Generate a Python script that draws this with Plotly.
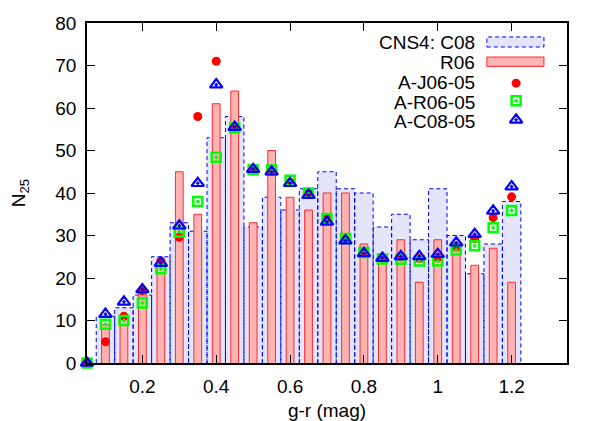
import plotly.graph_objects as go

# ---- data ----
gr_bins = [0.05, 0.10, 0.15, 0.20, 0.25, 0.30, 0.35, 0.40, 0.45, 0.50, 0.55, 0.60,
           0.65, 0.70, 0.75, 0.80, 0.85, 0.90, 0.95, 1.00, 1.05, 1.10, 1.15, 1.20]
cns4_c08 = [0, 11, 13, 16, 25, 33, 31, 53, 58, 32, 39, 36,
            41, 45, 41, 40, 32, 35, 29, 41, 30, 21, 28, 38]
r06 = [0, 9, 11, 17, 24, 45, 35, 61, 64, 33, 50, 39,
       36, 40, 40, 28, 24, 29, 19, 29, 28, 23, 27, 19]
a_j06_05 = [0, 5, 11, 17, 24, 29.6, 58, 71, 55.5, 45.5, 45, 42.5,
            40, 34, 29, 26, 24.7, 25, 24.6, 24.8, 27.3, 29.3, 34.2, 39.1]
a_r06_05 = [0, 9.1, 10, 14.1, 22.2, 30.8, 38, 48.4, 55.3, 45.5, 45.4, 43,
            40, 34, 29.3, 26, 24.5, 24.4, 24, 24, 26.6, 27.6, 31.8, 35.9]
a_c08_05 = [0, 11.5, 14.4, 17.3, 23.5, 32.3, 42.3, 65.5, 55.5, 45.6, 45, 42.3,
            39.5, 33.2, 28.8, 25.8, 24.7, 25.1, 25.1, 25.6, 28.3, 30.3, 35.8, 41.5]
x_ticks = [0.2, 0.4, 0.6, 0.8, 1.0, 1.2]
x_ticktext = ["0.2", "0.4", "0.6", "0.8", "1", "1.2"]

legend_labels = ["CNS4: C08", "R06", "A-J06-05", "A-R06-05", "A-C08-05"]

FONT = "Liberation Sans, Arial, Helvetica, sans-serif"
FS = 19
LAV = "#e4e4fa"
PINK = "#ffb3b3"

BOX_W = 0.05
BAR_W = 0.021


def box_path(centers, values, width):
    xs, ys = [], []
    for c, v in zip(centers, values):
        if v <= 0:
            continue
        l, r = c - width / 2, c + width / 2
        xs += [l, l, r, r, None]
        ys += [0, v, v, 0, None]
    return xs, ys


fig = go.Figure()

# CNS4: C08 wide boxes (fill + dashed outline)
bx, by = box_path(gr_bins, cns4_c08, BOX_W)
fig.add_trace(go.Scatter(x=bx, y=by, mode="lines", fill="toself", fillcolor=LAV,
                         line=dict(color="#0000ff", width=1, dash="4px,3px"),
                         showlegend=False, hoverinfo="skip"))

# R06 narrow bars drawn on top
rx, ry = box_path(gr_bins, r06, BAR_W)
fig.add_trace(go.Scatter(x=rx, y=ry, mode="lines", fill="toself", fillcolor=PINK,
                         line=dict(color="#ff2a2a", width=1),
                         showlegend=False, hoverinfo="skip"))

fig.add_trace(go.Scatter(x=gr_bins, y=a_j06_05, mode="markers", cliponaxis=False,
                         marker=dict(symbol="circle", size=9, color="#ff0000"),
                         showlegend=False))
fig.add_trace(go.Scatter(x=gr_bins, y=a_r06_05, mode="markers", cliponaxis=False,
                         marker=dict(symbol="square-open-dot", size=9, color="#00ff00",
                                     line=dict(width=2.5, color="#00ff00")),
                         showlegend=False))
fig.add_trace(go.Scatter(x=gr_bins, y=a_c08_05, mode="markers", cliponaxis=False,
                         marker=dict(symbol="triangle-up-open-dot", size=11, color="#0000ff",
                                     line=dict(width=2.2, color="#0000ff")),
                         showlegend=False))

# ---- custom legend (text right-aligned, key to the right) ----
row_y = [0.9438, 0.8857, 0.8267, 0.7678, 0.7111]
key_y = [0.823, 0.7711, 0.7153]
text_x = 0.812
key_x = 0.894
annotations = []
for lab, yy in zip(legend_labels, row_y):
    annotations.append(dict(text=lab, x=text_x, y=yy, xref="paper", yref="paper",
                            xanchor="right", yanchor="middle", showarrow=False,
                            height=18, valign="middle",
                            font=dict(family=FONT, size=FS, color="black")))
shapes = [
    dict(type="rect", xref="paper", yref="paper", x0=0.833, x1=0.952, y0=0.9295, y1=0.959,
         fillcolor=LAV, line=dict(color="#0000ff", width=1, dash="4px,3px"), layer="above"),
    dict(type="rect", xref="paper", yref="paper", x0=0.833, x1=0.952, y0=0.8724, y1=0.900,
         fillcolor=PINK, line=dict(color="#ff2a2a", width=1), layer="above"),
]
fig.add_trace(go.Scatter(x=[key_x], y=[key_y[0]], xaxis="x2", yaxis="y2", mode="markers",
                         marker=dict(symbol="circle", size=9, color="#ff0000"),
                         showlegend=False, hoverinfo="skip"))
fig.add_trace(go.Scatter(x=[key_x], y=[key_y[1]], xaxis="x2", yaxis="y2", mode="markers",
                         marker=dict(symbol="square-open-dot", size=9, color="#00ff00",
                                     line=dict(width=2.5, color="#00ff00")),
                         showlegend=False, hoverinfo="skip"))
fig.add_trace(go.Scatter(x=[key_x], y=[key_y[2]], xaxis="x2", yaxis="y2", mode="markers",
                         marker=dict(symbol="triangle-up-open-dot", size=11, color="#0000ff",
                                     line=dict(width=2.2, color="#0000ff")),
                         showlegend=False, hoverinfo="skip"))

axis_common = dict(showline=True, linecolor="black", linewidth=1.5, mirror="ticks",
                   ticks="inside", ticklen=8, tickwidth=1.2, tickcolor="black",
                   showgrid=False, zeroline=False, automargin=False,
                   tickfont=dict(family=FONT, size=FS, color="black"))

# the page body adds an 8 px offset, so the figure is 8 px smaller than the window
fig.update_layout(
    width=592, height=413,
    margin=dict(l=79, r=33, t=15, b=58),
    paper_bgcolor="white", plot_bgcolor="white",
    font=dict(family=FONT, size=FS, color="black"),
    showlegend=False,
    xaxis=dict(range=[0.05, 1.35], tickvals=x_ticks, ticktext=x_ticktext,
               title=dict(text="g-r (mag)", font=dict(family=FONT, size=FS), standoff=10),
               ticklabelstandoff=5, **axis_common),
    yaxis=dict(range=[0, 80], dtick=10,
               title=dict(text="N<sub>25</sub>", font=dict(family=FONT, size=FS), standoff=26),
               ticklabelstandoff=5, **axis_common),
    xaxis2=dict(overlaying="x", range=[0, 1], visible=False),
    yaxis2=dict(overlaying="y", range=[0, 1], visible=False),
    annotations=annotations,
    shapes=shapes,
)

fig.write_html("out.html")
